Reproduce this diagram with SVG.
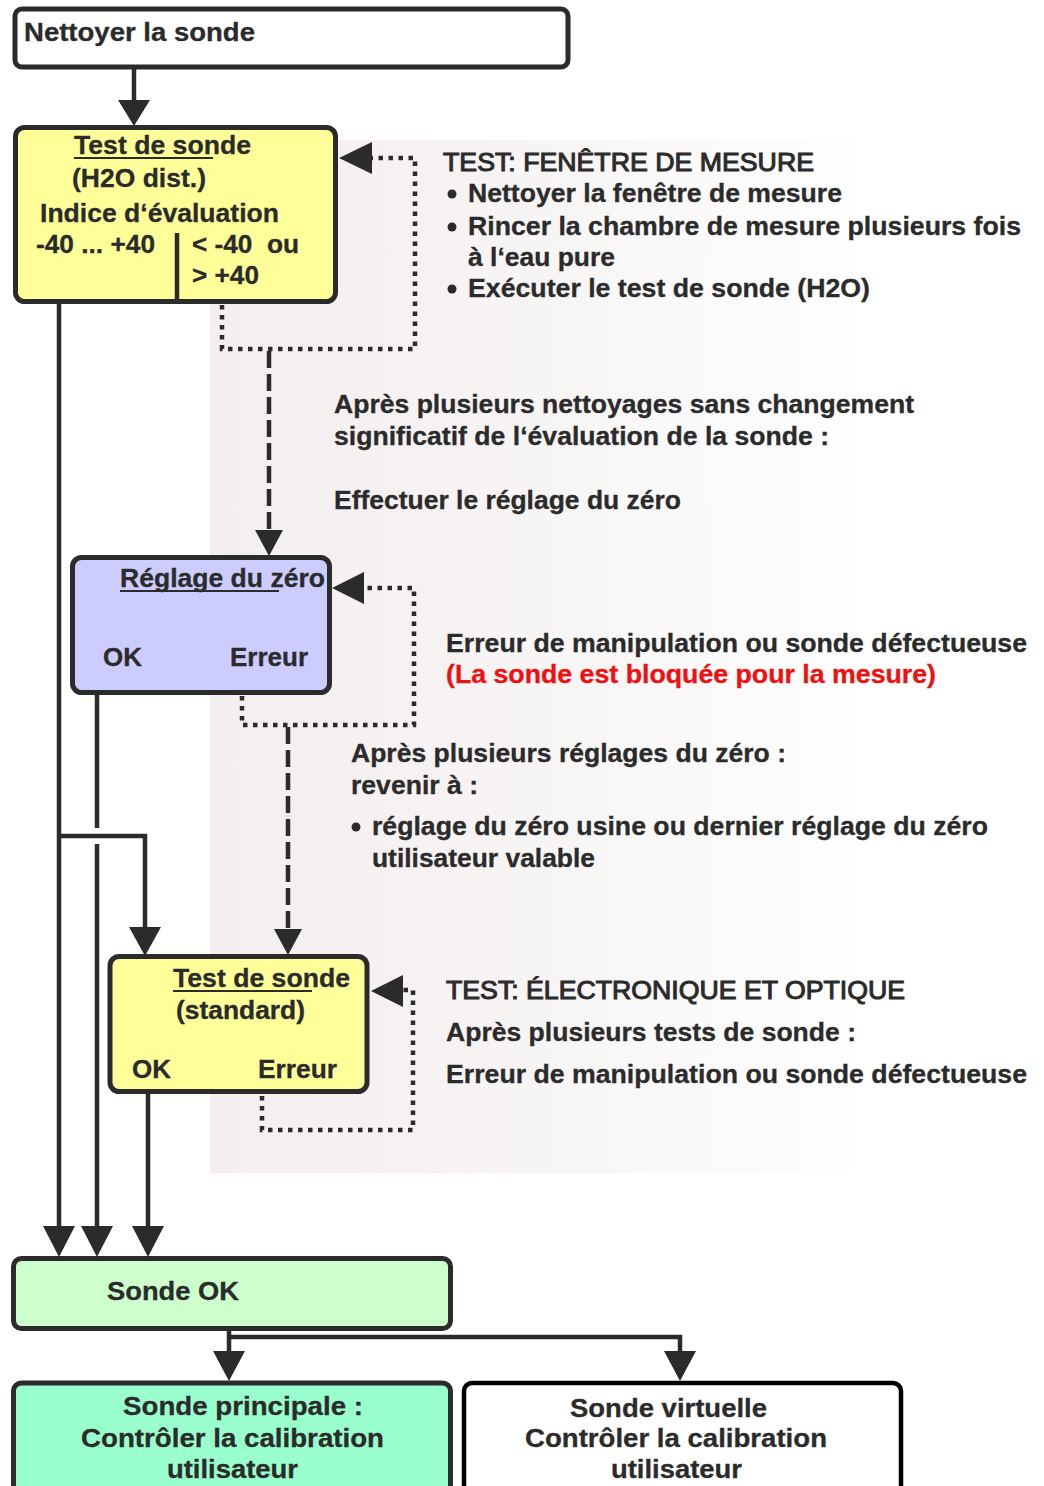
<svg xmlns="http://www.w3.org/2000/svg" width="1044" height="1486" viewBox="0 0 1044 1486">
<defs>
<linearGradient id="bg" x1="0" y1="0" x2="1" y2="0">
<stop offset="0" stop-color="#f3eeef"/>
<stop offset="0.55" stop-color="#f8f5f5"/>
<stop offset="1" stop-color="#ffffff"/>
</linearGradient>
<style>
.box{stroke:#2b2b2b;stroke-width:5}
.t{font-family:"Liberation Sans",Arial,Helvetica,sans-serif;font-weight:bold;font-size:26px;fill:#2b2b2b;stroke:#2b2b2b;stroke-width:0.3}
.r{font-family:"Liberation Sans",Arial,Helvetica,sans-serif;font-weight:bold;font-size:25px;fill:#2b2b2b;stroke:#2b2b2b;stroke-width:0.3}
.h{font-family:"Liberation Sans",Arial,Helvetica,sans-serif;font-weight:normal;font-size:25px;fill:#2b2b2b;stroke:#2b2b2b;stroke-width:1}
.red{fill:#ee1111;stroke:#ee1111}
.ln{stroke:#2b2b2b;stroke-width:4.5;fill:none}
.dot{stroke:#2b2b2b;stroke-width:4.5;fill:none;stroke-dasharray:4.5 5.5}
.dash{stroke:#2b2b2b;stroke-width:4.5;fill:none;stroke-dasharray:17 6}
.ah{fill:#2b2b2b}
.ul{stroke:#2b2b2b;stroke-width:2}
</style>
</defs>
<rect width="1044" height="1486" fill="#ffffff"/>
<rect x="210" y="140" width="658" height="1033" fill="url(#bg)"/>

<g id="n-nettoyer">
<rect class="box" x="15" y="9" width="553" height="58" rx="7" fill="#ffffff"/>
<text class="t" x="24" y="41" textLength="231" lengthAdjust="spacingAndGlyphs">Nettoyer la sonde</text>
</g>

<g id="n-test-h2o">
<rect class="box" x="15.5" y="127.5" width="320" height="174" rx="9" fill="#ffff99"/>
<text class="t" x="74" y="154" textLength="177" lengthAdjust="spacingAndGlyphs">Test de sonde</text>
<line class="ul" x1="74" y1="158" x2="213" y2="158"/>
<text class="t" x="72" y="187" textLength="134" lengthAdjust="spacingAndGlyphs">(H2O dist.)</text>
<text class="t" x="40" y="222" textLength="239" lengthAdjust="spacingAndGlyphs">Indice d‘évaluation</text>
<text class="t" x="36" y="253" textLength="119" lengthAdjust="spacingAndGlyphs">-40 ... +40</text>
<line class="ln" x1="177" y1="233" x2="177" y2="299"/>
<text class="t" x="192" y="253" textLength="107" lengthAdjust="spacingAndGlyphs" xml:space="preserve">&lt; -40  ou</text>
<text class="t" x="192" y="284" textLength="67" lengthAdjust="spacingAndGlyphs">&gt; +40</text>
</g>

<g id="n-zero">
<rect class="box" x="72.5" y="557.5" width="257" height="135" rx="9" fill="#ccccff"/>
<text class="t" x="120" y="587" textLength="205" lengthAdjust="spacingAndGlyphs">Réglage du zéro</text>
<line class="ul" x1="120" y1="591" x2="279" y2="591"/>
<text class="t" x="103" y="666" textLength="39" lengthAdjust="spacingAndGlyphs">OK</text>
<text class="t" x="230" y="666" textLength="78" lengthAdjust="spacingAndGlyphs">Erreur</text>
</g>

<g id="n-test-std">
<rect class="box" x="110" y="956.5" width="257" height="135" rx="9" fill="#ffff99"/>
<text class="t" x="173" y="987" textLength="177" lengthAdjust="spacingAndGlyphs">Test de sonde</text>
<line class="ul" x1="173" y1="991" x2="312" y2="991"/>
<text class="t" x="176" y="1019" textLength="129" lengthAdjust="spacingAndGlyphs">(standard)</text>
<text class="t" x="132" y="1078" textLength="39" lengthAdjust="spacingAndGlyphs">OK</text>
<text class="t" x="258" y="1078" textLength="79" lengthAdjust="spacingAndGlyphs">Erreur</text>
</g>

<g id="n-ok">
<rect class="box" x="13.5" y="1258.5" width="437" height="70" rx="8" fill="#ccffcc"/>
<text class="t" x="107" y="1300" textLength="132" lengthAdjust="spacingAndGlyphs">Sonde OK</text>
</g>

<g id="n-principale">
<rect class="box" x="13.5" y="1383" width="437" height="130" rx="8" fill="#99ffcc"/>
<text class="t" x="123" y="1415" textLength="240" lengthAdjust="spacingAndGlyphs">Sonde principale :</text>
<text class="t" x="81" y="1447" textLength="303" lengthAdjust="spacingAndGlyphs">Contrôler la calibration</text>
<text class="t" x="167" y="1478" textLength="131" lengthAdjust="spacingAndGlyphs">utilisateur</text>
</g>

<g id="n-virtuelle">
<rect x="464" y="1383" width="437" height="130" rx="8" fill="#ffffff" stroke="#000000" stroke-width="4.5"/>
<text class="t" x="570" y="1417" textLength="197" lengthAdjust="spacingAndGlyphs" fill="#000">Sonde virtuelle</text>
<text class="t" x="525" y="1447" textLength="302" lengthAdjust="spacingAndGlyphs">Contrôler la calibration</text>
<text class="t" x="611" y="1478" textLength="131" lengthAdjust="spacingAndGlyphs">utilisateur</text>
</g>

<g id="notes">
<text class="h" x="443" y="171" textLength="371" lengthAdjust="spacingAndGlyphs">TEST: FENÊTRE DE MESURE</text>
<circle class="ah" cx="452" cy="194" r="4.5"/>
<text class="r" x="468" y="202" textLength="374" lengthAdjust="spacingAndGlyphs">Nettoyer la fenêtre de mesure</text>
<circle class="ah" cx="452" cy="227" r="4.5"/>
<text class="r" x="468" y="235" textLength="553" lengthAdjust="spacingAndGlyphs">Rincer la chambre de mesure plusieurs fois</text>
<text class="r" x="468" y="266" textLength="147" lengthAdjust="spacingAndGlyphs">à l‘eau pure</text>
<circle class="ah" cx="452" cy="289" r="4.5"/>
<text class="r" x="468" y="297" textLength="402" lengthAdjust="spacingAndGlyphs">Exécuter le test de sonde (H2O)</text>

<text class="r" x="334" y="413" textLength="580" lengthAdjust="spacingAndGlyphs">Après plusieurs nettoyages sans changement</text>
<text class="r" x="334" y="445" textLength="495" lengthAdjust="spacingAndGlyphs">significatif de l‘évaluation de la sonde :</text>
<text class="r" x="334" y="509" textLength="347" lengthAdjust="spacingAndGlyphs">Effectuer le réglage du zéro</text>

<text class="r" x="446" y="652" textLength="581" lengthAdjust="spacingAndGlyphs">Erreur de manipulation ou sonde défectueuse</text>
<text class="r red" x="446" y="683" textLength="490" lengthAdjust="spacingAndGlyphs">(La sonde est bloquée pour la mesure)</text>

<text class="r" x="351" y="762" textLength="435" lengthAdjust="spacingAndGlyphs">Après plusieurs réglages du zéro :</text>
<text class="r" x="351" y="794" textLength="127" lengthAdjust="spacingAndGlyphs">revenir à :</text>
<circle class="ah" cx="356" cy="827" r="4.5"/>
<text class="r" x="372" y="835" textLength="616" lengthAdjust="spacingAndGlyphs">réglage du zéro usine ou dernier réglage du zéro</text>
<text class="r" x="372" y="867" textLength="223" lengthAdjust="spacingAndGlyphs">utilisateur valable</text>

<text class="h" x="446" y="999" textLength="459" lengthAdjust="spacingAndGlyphs">TEST: ÉLECTRONIQUE ET OPTIQUE</text>
<text class="r" x="446" y="1041" textLength="410" lengthAdjust="spacingAndGlyphs">Après plusieurs tests de sonde :</text>
<text class="r" x="446" y="1083" textLength="581" lengthAdjust="spacingAndGlyphs">Erreur de manipulation ou sonde défectueuse</text>
</g>

<g id="connectors">
<line class="ln" x1="134" y1="68" x2="134" y2="101"/>
<polygon class="ah" points="118,100 150,100 134,126"/>

<line class="ln" x1="59" y1="303" x2="59" y2="1227"/>
<polygon class="ah" points="43,1226 75,1226 59,1257"/>

<polyline class="ln" points="59,836 145,836 145,928"/>
<polygon class="ah" points="129,927 161,927 145,956"/>

<line class="ln" x1="97" y1="694" x2="97" y2="828"/>
<line class="ln" x1="97" y1="844" x2="97" y2="1227"/>
<polygon class="ah" points="81,1226 113,1226 97,1257"/>

<line class="ln" x1="148" y1="1093" x2="148" y2="1227"/>
<polygon class="ah" points="132,1226 164,1226 148,1257"/>

<polyline class="dot" points="222,305 222,349 415,349 415,158 372,158"/>
<polygon class="ah" points="339,158 372,142 372,174"/>

<line class="dash" x1="269" y1="351" x2="269" y2="531"/>
<polygon class="ah" points="255,530 283,530 269,556"/>

<polyline class="dot" points="242,696 242,725 414,725 414,588 363,588"/>
<polygon class="ah" points="332,588 364,572 364,604"/>

<line class="dash" x1="288" y1="727" x2="288" y2="930"/>
<polygon class="ah" points="274,929 302,929 288,955"/>

<polyline class="dot" points="262,1096 262,1130 413,1130 413,990 403,990"/>
<polygon class="ah" points="371,991 403,975 403,1007"/>

<line class="ln" x1="229" y1="1329" x2="229" y2="1352"/>
<polygon class="ah" points="213,1351 245,1351 229,1381"/>
<polyline class="ln" points="229,1337 680,1337 680,1352"/>
<polygon class="ah" points="664,1351 696,1351 680,1381"/>
</g>
</svg>
